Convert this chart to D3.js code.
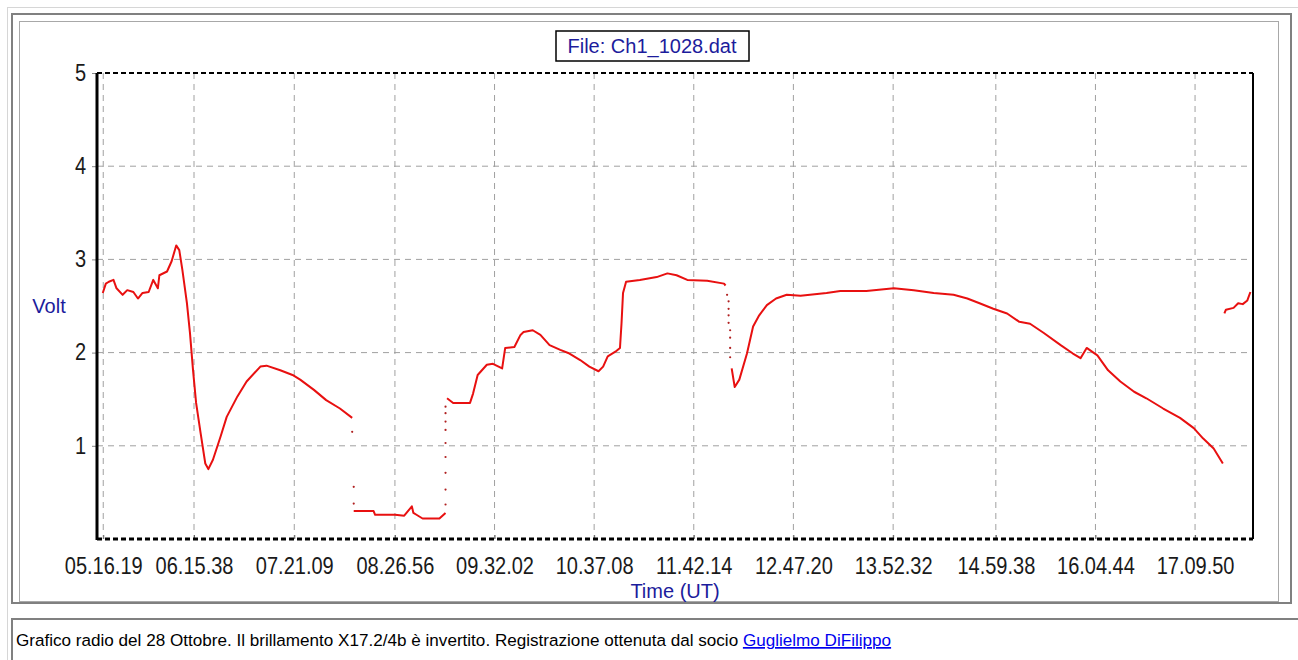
<!DOCTYPE html>
<html>
<head>
<meta charset="utf-8">
<script src="https://cdn.jsdelivr.net/npm/d3@7"></script>
<style>
    body { margin: 0; background: #fff; font-family: "Liberation Sans", Arial, sans-serif; }
    #chart-area { width: 1298px; height: 660px; }
</style>
</head>
<body>
<div id="chart-area"></div>
<script>

// time axis (UT) - labels as printed by the logger
let axisStart = "05:12:14";
let axisEnd = "17:47:42";
let tickTimes = ["05:16:19", "06:15:38", "07:21:09", "08:26:56", "09:32:02", "10:37:08",
    "11:42:14", "12:47:20", "13:52:32", "14:59:38", "16:04:44", "17:09:50"];
let voltTicks = [1, 2, 3, 4, 5];

// recorded trace, split where the receiver lost lock
let morning = [
    ["05:16", 2.64], ["05:18", 2.74], ["05:20", 2.76], ["05:23", 2.78], ["05:25", 2.69],
    ["05:29", 2.62], ["05:32", 2.67], ["05:36", 2.65], ["05:39", 2.58], ["05:42", 2.64],
    ["05:46", 2.65], ["05:49", 2.78], ["05:52", 2.69], ["05:53", 2.83], ["05:58", 2.87],
    ["06:01", 2.98], ["06:04", 3.15], ["06:06", 3.10], ["06:08", 2.89], ["06:11", 2.53],
    ["06:13", 2.21], ["06:15", 1.81], ["06:17", 1.46], ["06:20", 1.13], ["06:23", 0.81],
    ["06:25", 0.75], ["06:28", 0.85], ["06:33", 1.10], ["06:37", 1.31], ["06:44", 1.53],
    ["06:50", 1.69], ["06:59", 1.85], ["07:03", 1.86], ["07:12", 1.81], ["07:20", 1.76],
    ["07:25", 1.71], ["07:34", 1.60], ["07:42", 1.49], ["07:51", 1.40], ["07:59", 1.30]
];

let dropout = [
    ["08:00", 0.30], ["08:13", 0.30], ["08:14", 0.26], ["08:27", 0.26], ["08:33", 0.25],
    ["08:38", 0.35], ["08:39", 0.28], ["08:41", 0.26], ["08:45", 0.22], ["08:56", 0.22],
    ["09:00", 0.28]
];

let midday = [
    ["09:01", 1.51], ["09:05", 1.46], ["09:16", 1.46], ["09:18", 1.56], ["09:21", 1.76],
    ["09:27", 1.87], ["09:31", 1.88], ["09:37", 1.83], ["09:39", 2.05], ["09:45", 2.06],
    ["09:49", 2.19], ["09:51", 2.22], ["09:57", 2.24], ["10:02", 2.19], ["10:08", 2.08],
    ["10:15", 2.03], ["10:21", 1.99], ["10:28", 1.92], ["10:34", 1.85], ["10:40", 1.80],
    ["10:43", 1.85], ["10:46", 1.96], ["10:51", 2.01], ["10:54", 2.05], ["10:55", 2.31],
    ["10:56", 2.64], ["10:58", 2.76], ["11:07", 2.78], ["11:18", 2.81], ["11:25", 2.85],
    ["11:31", 2.83], ["11:38", 2.78], ["11:51", 2.77], ["12:02", 2.74], ["12:03", 2.72]
];

let afternoon = [
    ["12:07", 1.83], ["12:09", 1.63], ["12:12", 1.71], ["12:17", 1.99], ["12:21", 2.28],
    ["12:25", 2.40], ["12:30", 2.51], ["12:36", 2.58], ["12:43", 2.62], ["12:52", 2.61],
    ["13:09", 2.64], ["13:18", 2.66], ["13:35", 2.66], ["13:53", 2.69], ["14:06", 2.67],
    ["14:19", 2.64], ["14:32", 2.62], ["14:41", 2.58], ["14:49", 2.53], ["14:58", 2.47],
    ["15:07", 2.42], ["15:15", 2.33], ["15:22", 2.31], ["15:31", 2.21], ["15:42", 2.08],
    ["15:50", 1.99], ["15:55", 1.94], ["15:59", 2.05], ["16:06", 1.97], ["16:13", 1.81],
    ["16:21", 1.69], ["16:30", 1.58], ["16:38", 1.51], ["16:49", 1.40], ["17:00", 1.30],
    ["17:09", 1.19], ["17:15", 1.08], ["17:22", 0.97], ["17:28", 0.81]
];

let evening = [
    ["17:29", 2.42], ["17:30", 2.46], ["17:35", 2.48], ["17:38", 2.53], ["17:41", 2.52],
    ["17:44", 2.56], ["17:46", 2.65]
];

// isolated samples during the fast jumps
let jumpDots = [
    ["07:59", 1.15], ["08:00", 0.56], ["08:00", 0.38],
    ["09:00", 0.37], ["09:00", 0.53], ["09:00", 0.71], ["09:00", 0.88], ["09:00", 1.03],
    ["09:00", 1.17], ["09:00", 1.26], ["09:00", 1.35], ["09:00", 1.42],
    ["12:04", 2.62], ["12:05", 2.55], ["12:05", 2.47], ["12:05", 2.40], ["12:05", 2.32],
    ["12:06", 2.24], ["12:06", 2.16], ["12:06", 2.05], ["12:06", 1.95]
];

let fileName = "File: Ch1_1028.dat";
let caption = "Grafico radio del 28 Ottobre. Il brillamento X17.2/4b è invertito. Registrazione ottenuta dal socio ";
let captionLink = "Guglielmo DiFilippo";


class RadioPlot {

    constructor(parentElement) {
        this.parentElement = parentElement;
        this.displayData = [];

        this.initVis();
    }

    initVis() {
        let vis = this;

        vis.margin = {top: 73, right: 45, bottom: 121, left: 97};
        vis.width = 1298 - vis.margin.left - vis.margin.right;
        vis.height = 660 - vis.margin.top - vis.margin.bottom;
        vis.squeeze = 0.87;   // tick labels are tall and narrow in the original

        vis.root = d3.select("#" + vis.parentElement).append("svg")
            .attr("width", 1298)
            .attr("height", 660);

        // page table frames
        vis.root.append("rect")
            .attr("x", 7.5).attr("y", 7.5).attr("width", 1300).attr("height", 670)
            .attr("fill", "none").attr("stroke", "#d6d6d6");
        vis.root.append("rect")
            .attr("x", 12).attr("y", 14).attr("width", 1279).attr("height", 589)
            .attr("fill", "none").attr("stroke", "#808080").attr("stroke-width", 2);
        vis.root.append("rect")
            .attr("x", 19.5).attr("y", 21.5).attr("width", 1259).attr("height", 580)
            .attr("fill", "#fff").attr("stroke", "#a8a8a8");
        vis.root.append("rect")
            .attr("x", 12).attr("y", 619).attr("width", 1300).attr("height", 60)
            .attr("fill", "none").attr("stroke", "#808080").attr("stroke-width", 2);

        let cap = vis.root.append("text")
            .attr("x", 16)
            .attr("y", 646)
            .attr("font-size", 17.1)
            .attr("fill", "#000")
            .text(caption);
        cap.append("tspan")
            .attr("fill", "#0000ee")
            .attr("text-decoration", "underline")
            .text(captionLink);

        vis.svg = vis.root.append("g")
            .attr("transform", "translate(" + vis.margin.left + "," + vis.margin.top + ")");

        vis.parseTick = d3.timeParse("%H:%M:%S");
        vis.parseTime = d3.timeParse("%H:%M");

        vis.x = d3.scaleTime()
            .domain([vis.parseTick(axisStart), vis.parseTick(axisEnd)])
            .range([0, vis.width]);

        vis.y = d3.scaleLinear()
            .domain([0, 5])
            .range([vis.height, 0]);

        vis.wrangleData();
    }

    wrangleData() {
        let vis = this;

        let toPoints = arr => arr.map(d => ({time: vis.parseTime(d[0]), volt: d[1]}));

        vis.displayData = [morning, dropout, midday, afternoon, evening].map(toPoints);
        vis.dots = toPoints(jumpDots);

        vis.updateVis();
    }

    updateVis() {
        let vis = this;

        let ticks = tickTimes.map(vis.parseTick);

        // dashed grid
        vis.svg.selectAll(".hgrid")
            .data(voltTicks.filter(d => d < 5))
            .enter()
            .append("line")
            .attr("x1", 0)
            .attr("x2", vis.width)
            .attr("y1", d => vis.y(d))
            .attr("y2", d => vis.y(d))
            .attr("stroke", "#a0a0a0")
            .attr("stroke-dasharray", "6,5");

        vis.svg.selectAll(".vgrid")
            .data(ticks)
            .enter()
            .append("line")
            .attr("x1", d => vis.x(d))
            .attr("x2", d => vis.x(d))
            .attr("y1", 0)
            .attr("y2", vis.height)
            .attr("stroke", "#a0a0a0")
            .attr("stroke-dasharray", "6,5");

        // axes
        let xAxis = vis.svg.append("g")
            .attr("transform", "translate(0," + vis.height + ")")
            .call(d3.axisBottom(vis.x)
                .tickValues(ticks)
                .tickFormat(d3.timeFormat("%H.%M.%S"))
                .tickSize(-4));
        xAxis.select(".domain").remove();
        xAxis.selectAll("line").attr("stroke", "#666");
        xAxis.selectAll("text")
            .attr("y", 35)
            .attr("dy", null)
            .attr("font-size", 23)
            .attr("font-family", "'Liberation Sans', Arial, sans-serif")
            .attr("transform", "scale(" + vis.squeeze + ",1)")
            .attr("fill", "#1a1a1a");

        let yAxis = vis.svg.append("g")
            .call(d3.axisLeft(vis.y)
                .tickValues(voltTicks)
                .tickFormat(d3.format("d"))
                .tickSize(5)
                .tickPadding(6));
        yAxis.select(".domain").remove();
        yAxis.selectAll("line").attr("stroke", "#888");
        yAxis.selectAll("text")
            .attr("x", -11 / vis.squeeze)
            .attr("font-size", 23)
            .attr("font-family", "'Liberation Sans', Arial, sans-serif")
            .attr("transform", "scale(" + vis.squeeze + ",1)")
            .attr("fill", "#1a1a1a");

        // plot frame
        vis.svg.append("line")
            .attr("x1", 0).attr("x2", vis.width).attr("y1", 0).attr("y2", 0)
            .attr("stroke", "#000").attr("stroke-width", 2).attr("stroke-dasharray", "5,3");
        vis.svg.append("line")
            .attr("x1", 0).attr("x2", vis.width).attr("y1", vis.height).attr("y2", vis.height)
            .attr("stroke", "#000").attr("stroke-width", 3).attr("stroke-dasharray", "5,3");
        vis.svg.append("line")
            .attr("x1", vis.width).attr("x2", vis.width).attr("y1", 0).attr("y2", vis.height)
            .attr("stroke", "#000").attr("stroke-width", 2);
        vis.svg.append("line")
            .attr("x1", 0).attr("x2", 0).attr("y1", 0).attr("y2", vis.height + 1)
            .attr("stroke", "#000").attr("stroke-width", 3);

        // trace
        let line = d3.line()
            .x(d => vis.x(d.time))
            .y(d => vis.y(d.volt));

        vis.svg.selectAll(".trace")
            .data(vis.displayData)
            .enter()
            .append("path")
            .attr("class", "trace")
            .attr("d", line)
            .attr("fill", "none")
            .attr("stroke", "#e81010")
            .attr("stroke-width", 2)
            .attr("stroke-linejoin", "round");

        vis.svg.selectAll(".dot")
            .data(vis.dots)
            .enter()
            .append("circle")
            .attr("cx", d => vis.x(d.time))
            .attr("cy", d => vis.y(d.volt))
            .attr("r", 1.1)
            .attr("fill", "#b02020");

        // labels
        vis.svg.append("text")
            .attr("x", -48)
            .attr("y", vis.y(2.5) + 7)
            .attr("text-anchor", "middle")
            .attr("font-size", 20)
            .attr("fill", "#1c1c9c")
            .text("Volt");

        vis.svg.append("text")
            .attr("x", vis.width / 2)
            .attr("y", vis.height + 59)
            .attr("text-anchor", "middle")
            .attr("font-size", 20)
            .attr("fill", "#1c1c9c")
            .text("Time (UT)");

        // file name box
        let title = vis.svg.append("g")
            .attr("transform", "translate(" + (vis.width / 2 - 23) + ",-27)");
        title.append("rect")
            .attr("x", -96)
            .attr("y", -15)
            .attr("width", 193)
            .attr("height", 30)
            .attr("fill", "#fff")
            .attr("stroke", "#000")
            .attr("stroke-width", 1.5);
        title.append("text")
            .attr("y", 7)
            .attr("text-anchor", "middle")
            .attr("font-size", 20)
            .attr("fill", "#1c1c9c")
            .text(fileName);
    }
}

let radioPlot = new RadioPlot("chart-area");

</script>
</body>
</html>
